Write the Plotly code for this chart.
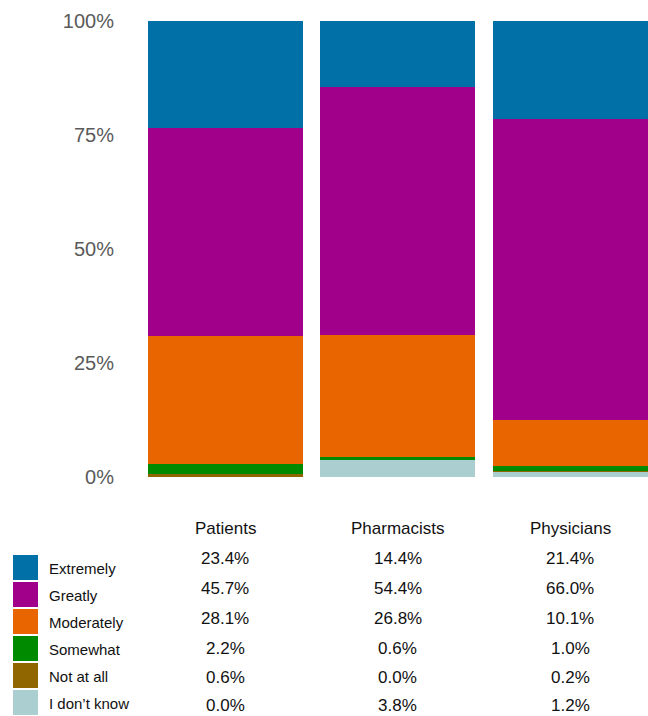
import plotly.graph_objects as go

groups = ["Patients", "Pharmacists", "Physicians"]
levels = ["Extremely", "Greatly", "Moderately", "Somewhat", "Not at all", "I don\u2019t know"]
extremely = [23.4, 14.4, 21.4]
greatly = [45.7, 54.4, 66.0]
moderately = [28.1, 26.8, 10.1]
somewhat = [2.2, 0.6, 1.0]
not_at_all = [0.6, 0.0, 0.2]
dont_know = [0.0, 3.8, 1.2]
series = [extremely, greatly, moderately, somewhat, not_at_all, dont_know]
colors = ["#0070A6", "#A1008B", "#E86500", "#008A00", "#906600", "#ABCFD1"]
ytick_vals = [0, 25, 50, 75, 100]
ytick_text = ["0%", "25%", "50%", "75%", "100%"]

W, H = 648, 716
ml, mt, mb = 139, 21, 239
plot_h = H - mt - mb
plot_w = W - ml

def py(pix):
    return (H - mb - pix) / plot_h

def px(pix):
    return (pix - ml) / plot_w

fig = go.Figure()
# stack bottom-up: I don't know first
for name, vals, col in reversed(list(zip(levels, series, colors))):
    fig.add_trace(go.Bar(x=groups, y=vals, name=name, marker=dict(color=col, line=dict(width=0)),
                         showlegend=False, hoverinfo="x+y+name"))

font = "Liberation Sans, Arial, sans-serif"
ann = []
# column headers
for g in groups:
    ann.append(dict(x=g, y=py(528), xref="x", yref="paper", text=g, showarrow=False,
                    font=dict(family=font, size=17, color="#111"), xanchor="center", yanchor="middle"))
row_y = [558, 588, 618, 648, 677, 705]
for i, (name, vals) in enumerate(zip(levels, series)):
    for g, v in zip(groups, vals):
        ann.append(dict(x=g, y=py(row_y[i]), xref="x", yref="paper", text=f"{v:.1f}%", showarrow=False,
                        font=dict(family=font, size=17, color="#111"), xanchor="center", yanchor="middle"))
shapes = []
for i, (name, col) in enumerate(zip(levels, colors)):
    top = 555 + 27 * i
    shapes.append(dict(type="rect", xref="paper", yref="paper", x0=px(13), x1=px(38),
                       y0=py(top + 25), y1=py(top), fillcolor=col, line=dict(width=0)))
    ann.append(dict(x=px(47), y=py(top + 13), xref="paper", yref="paper", text=name, showarrow=False,
                    font=dict(family=font, size=15, color="#111"), xanchor="left", yanchor="middle"))

fig.update_layout(
    width=W, height=H, barmode="stack", bargap=0.1,
    margin=dict(l=ml, r=0, t=mt, b=mb),
    paper_bgcolor="white", plot_bgcolor="white",
    xaxis=dict(range=[-0.5, -0.5 + plot_w / 172.5], showticklabels=False, showgrid=False,
               zeroline=False, showline=False, ticks=""),
    yaxis=dict(range=[0, 100], tickvals=ytick_vals, ticktext=ytick_text, showgrid=False,
               zeroline=False, showline=False, ticks="", ticklabelstandoff=24,
               tickfont=dict(family=font, size=20, color="#5a5a5a")),
    annotations=ann, shapes=shapes, showlegend=False,
)
fig.write_html("out.html")
